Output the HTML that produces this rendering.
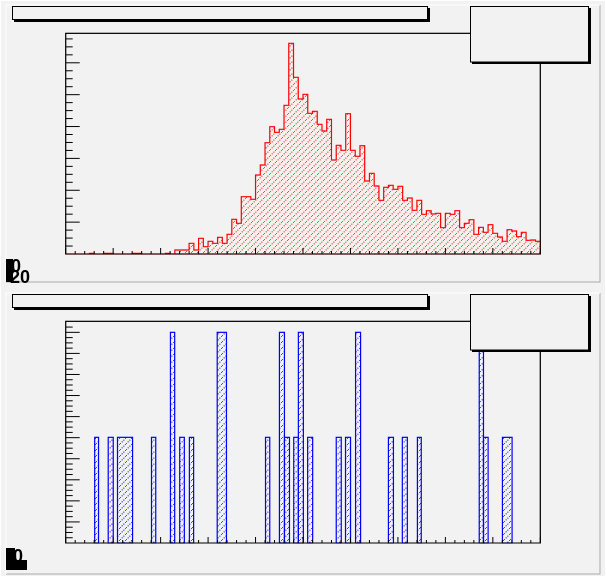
<!DOCTYPE html>
<html><head><meta charset="utf-8"><style>
html,body{margin:0;padding:0;background:#fff;}
svg{display:block;}
text{font-family:"Liberation Sans",sans-serif;font-weight:bold;}
</style></head><body>
<svg id="s" width="606" height="577" viewBox="0 0 606 577" xmlns="http://www.w3.org/2000/svg">
<defs>
<pattern id="hr" patternUnits="userSpaceOnUse" width="6" height="6">
<path d="M0,6 L6,0" stroke="#f00" stroke-width="1" stroke-dasharray="1,1.5"/>
</pattern>
<pattern id="hb" patternUnits="userSpaceOnUse" width="6" height="6">
<path d="M0,6 L6,0" stroke="#00f" stroke-width="1" stroke-dasharray="1,1.5"/>
</pattern>
</defs>
<rect x="0" y="0" width="606" height="577" fill="#f2f2f2"/>
<rect x="0.5" y="0.5" width="605" height="576" fill="none" stroke="#fff"/>
<rect x="6" y="5" width="594" height="277" fill="#f2f2f2"/>
<path d="M6,282 H600 V5" fill="none" stroke="#aaa"/>
<path d="M6,282 V5 H600" fill="none" stroke="#fff"/>
<rect x="6" y="293" width="594" height="281" fill="#f2f2f2"/>
<path d="M6,574 H600 V293" fill="none" stroke="#aaa"/>
<path d="M6,574 V293 H600" fill="none" stroke="#fff"/>
<g id="g"></g>
</svg>
<script>
var sx=606/1568, sy=1/3;
var g=document.getElementById('g');
function el(t,a){var e=document.createElementNS('http://www.w3.org/2000/svg',t);for(var k in a)e.setAttribute(k,a[k]);g.appendChild(e);return e;}
function X(x){return x*sx;}
function pad(off,base,ymaj,ymin,col,fill,drawHist){
  var top=100*sy+off, bot=base*sy+off, L=X(170), R=X(1398);
  el('rect',{x:L,y:top,width:R-L,height:bot-top,fill:'#f2f2f2',stroke:'#000','stroke-width':1});
  drawHist();
  for(var i=0;;i++){var y=base-ymin*i; if(y<110)break; var maj=(i%4==0);
    el('line',{x1:L,x2:L+(maj?14:7),y1:y*sy+off,y2:y*sy+off,stroke:'#000','stroke-width':1});}
  for(var i=0;i<=50;i++){var x=170+24.56*i; if(x>1398)break; var maj=(i%5==0);
    el('line',{x1:X(x),x2:X(x),y1:bot,y2:bot-(maj?6:3),stroke:'#000','stroke-width':1});}
  el('rect',{x:L,y:top,width:R-L,height:bot-top,fill:'none',stroke:'#000','stroke-width':1});
}
function boxes(off){
  el('rect',{x:14,y:off+8,width:416,height:14,fill:'#000'});
  el('rect',{x:12.5,y:off+6.5,width:415,height:13,fill:'#f2f2f2',stroke:'#000','stroke-width':1});
  el('rect',{x:472,y:off+8,width:119,height:56,fill:'#000'});
  el('rect',{x:470.5,y:off+6.5,width:118,height:55.5,fill:'#f2f2f2',stroke:'#000','stroke-width':1});
}
var H=[762,762,762,762,762,760,762,762,760,760,762,762,762,762,760,760,762,762,762,762,762,760,762,750,750,750,730,750,715,740,724,730,712,730,703,658,670,590,590,598,525,495,428,380,397,388,316,130,232,297,283,340,334,373,393,358,480,436,451,341,451,469,437,543,520,558,601,562,556,568,559,601,594,631,601,643,632,642,640,683,640,643,632,683,670,659,703,682,697,674,700,711,724,689,693,710,697,721,720,724];
pad(0,762,95.5,23.9,'#f00','url(#hr)',function(){
  var w=12.28, d='M'+X(170)+','+(762*sy);
  for(var i=0;i<100;i++){var x0=170+w*i,x1=x0+w,y=H[i]*sy; d+=' L'+X(x0)+','+y+' L'+X(x1)+','+y;}
  d+=' L'+X(1398)+','+(762*sy)+' Z';
  el('path',{d:d,fill:'url(#hr)',stroke:'none'});
  el('path',{d:d,fill:'none',stroke:'#f00','stroke-width':1.2});
});
boxes(0);
var B=[[245,255,448],[280,293,448],[304,343,448],[392,403,448],[441,452,133],[465,477,448],[490,501,448],[562,586,133],[687,698,448],[723,736,133],[736,749,448],[760,772,448],[772,785,133],[796,809,448],[870,883,448],[894,907,448],[920,933,133],[1005,1018,448],[1041,1054,448],[1080,1090,448],[1240,1251,133],[1251,1263,448],[1300,1325,448]];
var off2=288;
pad(off2,765,63.2,15.8,'#00f','url(#hb)',function(){
  B.forEach(function(b){var x0=X(b[0]),x1=X(b[1]),y=b[2]*sy+off2,yb=765*sy+off2;
    el('rect',{x:x0,y:y,width:x1-x0,height:yb-y,fill:'url(#hb)',stroke:'#00f','stroke-width':1.2});});
});
boxes(off2);
function lab(x,y,t,s){var e=el('text',{x:x,y:y,'font-size':s,fill:'#000'});e.textContent=t;}
el('rect',{x:6,y:259,width:7,height:23,fill:'#000'});
lab(11,272,'0',18);lab(10,283,'20',18);
el('rect',{x:6,y:548,width:9,height:22,fill:'#000'});
lab(13,562,'0',18);
el('rect',{x:6,y:560,width:21,height:10,fill:'#000'});
</script>
</body></html>
